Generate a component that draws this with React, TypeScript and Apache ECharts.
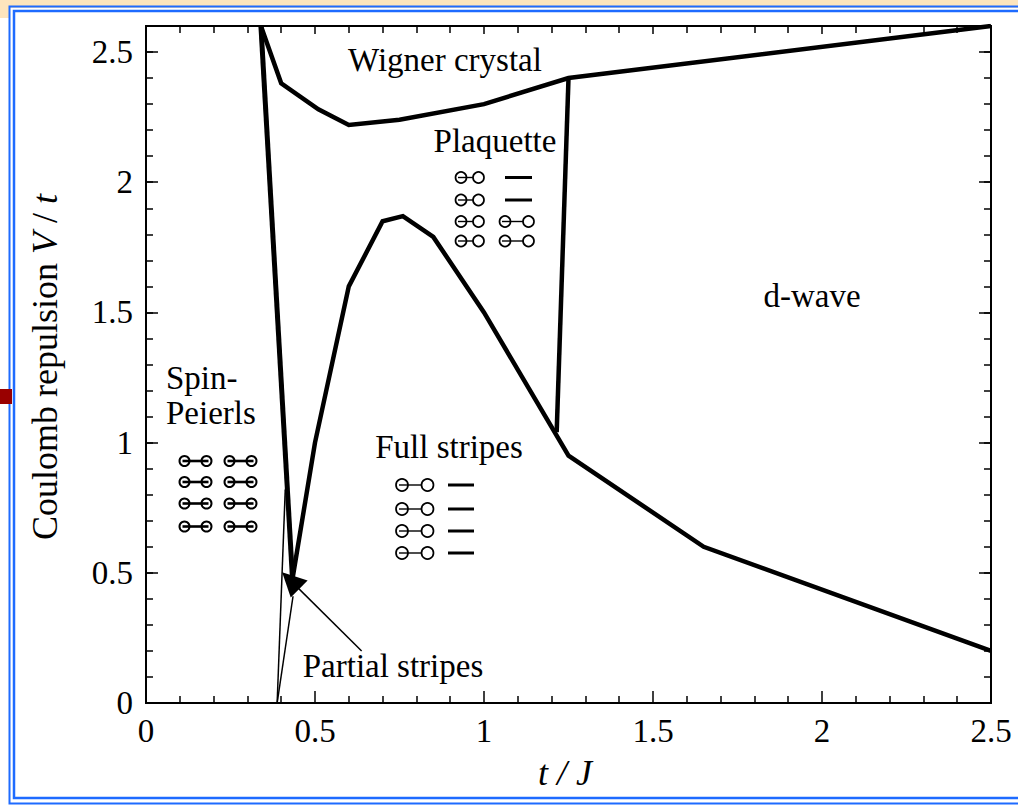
import React, { useEffect, useRef } from "react";
import * as echarts from "echarts";

// ---- data (t/J, V/t) ----
const wignerBoundary: number[][] = [
  [0.34, 2.6], [0.4, 2.38], [0.51, 2.28], [0.6, 2.22], [0.75, 2.24], [1.0, 2.3], [1.25, 2.4], [2.5, 2.6],
];
const spinPeierlsBoundary: number[][] = [[0.34, 2.6], [0.435, 0.44]];
const plaquetteBoundary: number[][] = [[1.25, 2.4], [1.215, 1.04]];
const stripeBoundary: number[][] = [
  [0.43, 0.45], [0.5, 1.0], [0.6, 1.6], [0.7, 1.85], [0.76, 1.87], [0.85, 1.79], [1.0, 1.5],
  [1.25, 0.95], [1.65, 0.6], [2.5, 0.2],
];
const partialLineA: number[][] = [[0.388, 0], [0.412, 0.82]];
const partialLineB: number[][] = [[0.388, 0], [0.435, 0.41]];
const arrowCoords: number[][] = [[0.638, 0.2], [0.428, 0.47]];

const xTickLabels = ["0", "0.5", "1", "1.5", "2", "2.5"];
const yTickLabels = ["0", "0.5", "1", "1.5", "2", "2.5"];

const SERIF = '"Liberation Serif", "Times New Roman", serif';

function dumbbellSP(cx1: number, cx2: number, cy: number): any[] {
  return [
    { type: "line", shape: { x1: cx1 - 2, y1: cy, x2: cx2 + 2, y2: cy }, style: { stroke: "#000", lineWidth: 2.6 } },
    { type: "circle", shape: { cx: cx1, cy, r: 5 }, style: { fill: "none", stroke: "#000", lineWidth: 2 } },
    { type: "circle", shape: { cx: cx2, cy, r: 5 }, style: { fill: "none", stroke: "#000", lineWidth: 2 } },
  ];
}
function dumbbellOpen(cx1: number, cx2: number, cy: number, r: number): any[] {
  return [
    { type: "line", shape: { x1: cx1 - 3, y1: cy, x2: cx2 - r, y2: cy }, style: { stroke: "#000", lineWidth: 1.4 } },
    { type: "circle", shape: { cx: cx1, cy, r }, style: { fill: "none", stroke: "#000", lineWidth: 1.7 } },
    { type: "circle", shape: { cx: cx2, cy, r }, style: { fill: "none", stroke: "#000", lineWidth: 1.7 } },
  ];
}
function bar(x1: number, x2: number, cy: number): any {
  return { type: "line", shape: { x1, y1: cy, x2, y2: cy }, style: { stroke: "#000", lineWidth: 3 } };
}
function label(text: string, x: number, y: number, align = "center"): any {
  return {
    type: "text",
    x,
    y,
    style: { text, fontFamily: SERIF, fontSize: 33, fill: "#000", align, verticalAlign: "middle" },
  };
}

export default function App() {
  const ref = useRef<HTMLDivElement>(null);
  useEffect(() => {
    if (!ref.current) return;
    const chart = echarts.init(ref.current, undefined, { renderer: "svg" });

    const lineSeries = (data: number[][], width: number) => ({
      type: "line",
      data,
      xAxisIndex: 0,
      yAxisIndex: 0,
      symbol: "none",
      showSymbol: false,
      silent: true,
      z: 5,
      lineStyle: { color: "#000", width, join: "miter" },
    });

    const tickLen = 12;
    const minorLen = 7;
    const baseAxis = {
      type: "value",
      splitLine: { show: false },
      axisLine: { show: true, onZero: false, lineStyle: { color: "#000", width: 2 } },
    };

    const glyphs: any[] = [];
    // Spin-Peierls dimers
    [461, 482, 503.5, 526.5].forEach((cy) => {
      glyphs.push(...dumbbellSP(184.5, 206.5, cy));
      glyphs.push(...dumbbellSP(229.5, 251.5, cy));
    });
    // Full stripes
    [485, 509, 531, 553].forEach((cy) => {
      glyphs.push(...dumbbellOpen(402, 427.5, cy, 6));
      glyphs.push(bar(448, 474, cy));
    });
    // Plaquette
    [177.5, 200, 221.5, 241].forEach((cy, i) => {
      glyphs.push(...dumbbellOpen(461, 478.5, cy, 5.5));
      if (i < 2) glyphs.push(bar(505, 532, cy));
      else glyphs.push(...dumbbellOpen(505, 528.5, cy, 5.5));
    });

    const option: any = {
      animation: false,
      backgroundColor: "#ffffff",
      grid: { left: 146, right: 27, top: 26, bottom: 106 },
      xAxis: [
        {
          ...baseAxis,
          position: "bottom",
          min: 0,
          max: 2.5,
          interval: 0.5,
          axisTick: { show: true, inside: true, length: tickLen, lineStyle: { color: "#000", width: 1.5 } },
          minorTick: { show: true, splitNumber: 5, length: minorLen, lineStyle: { color: "#000", width: 1.5 } },
          minorSplitLine: { show: false },
          axisLabel: {
            color: "#000",
            fontFamily: SERIF,
            fontSize: 33,
            margin: 11,
            formatter: (v: number) => xTickLabels[Math.round(v / 0.5)] ?? "",
          },
        },
        {
          ...baseAxis,
          position: "top",
          min: 0,
          max: 2.5,
          interval: 0.5,
          axisTick: { show: true, inside: true, length: minorLen + 1, lineStyle: { color: "#000", width: 1.5 } },
          minorTick: { show: true, splitNumber: 5, length: minorLen, lineStyle: { color: "#000", width: 1.5 } },
          minorSplitLine: { show: false },
          axisLabel: { show: false },
        },
      ],
      yAxis: [
        {
          ...baseAxis,
          position: "left",
          min: 0,
          max: 2.6,
          interval: 0.5,
          axisTick: { show: true, inside: true, length: tickLen, lineStyle: { color: "#000", width: 1.5 } },
          axisLabel: {
            color: "#000",
            fontFamily: SERIF,
            fontSize: 33,
            margin: 13,
            formatter: (v: number) => {
              const k = v / 0.5;
              return Math.abs(k - Math.round(k)) < 1e-6 ? yTickLabels[Math.round(k)] ?? "" : "";
            },
          },
        },
        {
          ...baseAxis,
          position: "left",
          min: 0,
          max: 2.6,
          interval: 0.1,
          axisTick: { show: true, inside: true, length: minorLen, lineStyle: { color: "#000", width: 1.5 } },
          axisLabel: { show: false },
        },
        {
          ...baseAxis,
          position: "right",
          min: 0,
          max: 2.6,
          interval: 0.5,
          axisTick: { show: true, inside: true, length: tickLen, lineStyle: { color: "#000", width: 1.5 } },
          axisLabel: { show: false },
        },
        {
          ...baseAxis,
          position: "right",
          min: 0,
          max: 2.6,
          interval: 0.1,
          axisTick: { show: true, inside: true, length: minorLen, lineStyle: { color: "#000", width: 1.5 } },
          axisLabel: { show: false },
        },
      ],
      series: [
        lineSeries(wignerBoundary, 4.5),
        lineSeries(spinPeierlsBoundary, 5),
        lineSeries(plaquetteBoundary, 4.5),
        lineSeries(stripeBoundary, 4.5),
        lineSeries(partialLineA, 1.5),
        lineSeries(partialLineB, 1.5),
        {
          type: "lines",
          coordinateSystem: "cartesian2d",
          xAxisIndex: 0,
          yAxisIndex: 0,
          silent: true,
          z: 6,
          symbol: ["none", "triangle"],
          symbolSize: [13, 24],
          lineStyle: { color: "#000", width: 1.5, opacity: 1 },
          data: [{ coords: arrowCoords }],
        },
      ],
      graphic: [
        // slide background pieces
        { type: "rect", shape: { x: 0, y: 0, width: 1018, height: 8 }, style: { fill: "#fde5bd" }, z: 0 },
        { type: "rect", shape: { x: 0, y: 8, width: 9, height: 10 }, style: { fill: "#fde5bd" }, z: 0 },
        {
          type: "rect",
          shape: { x: 9.5, y: 6.5, width: 1030, height: 797 },
          style: { fill: "none", stroke: "#1e6bff", lineWidth: 2 },
          z: 1,
        },
        {
          type: "rect",
          shape: { x: 14, y: 11, width: 1030, height: 787 },
          style: { fill: "none", stroke: "#1e6bff", lineWidth: 2.5 },
          z: 1,
        },
        { type: "rect", shape: { x: 0, y: 389, width: 12, height: 15 }, style: { fill: "#990000" }, z: 2 },
        // annotations
        label("Wigner crystal", 445, 60),
        label("Plaquette", 495, 141),
        label("d-wave", 812, 296),
        label("Spin-", 166, 378, "left"),
        label("Peierls", 166, 413, "left"),
        label("Full stripes", 449, 447),
        label("Partial stripes", 393, 666),
        ...glyphs,
        {
          type: "text",
          x: 45,
          y: 367,
          rotation: Math.PI / 2,
          style: {
            text: "Coulomb repulsion {i|V} / {i|t}",
            fontFamily: SERIF,
            fontSize: 36,
            fill: "#000",
            align: "center",
            verticalAlign: "middle",
            rich: { i: { fontStyle: "italic", fontFamily: SERIF, fontSize: 36, fill: "#000" } },
          },
        },
        {
          type: "text",
          x: 565,
          y: 773,
          style: {
            text: "t / J",
            fontFamily: SERIF,
            fontStyle: "italic",
            fontSize: 36,
            fill: "#000",
            align: "center",
            verticalAlign: "middle",
          },
        },
      ],
    };
    chart.setOption(option);
    return () => chart.dispose();
  }, []);
  return <div ref={ref} style={{ position: "fixed", left: 0, top: 0, width: 1018, height: 809 }} />;
}
